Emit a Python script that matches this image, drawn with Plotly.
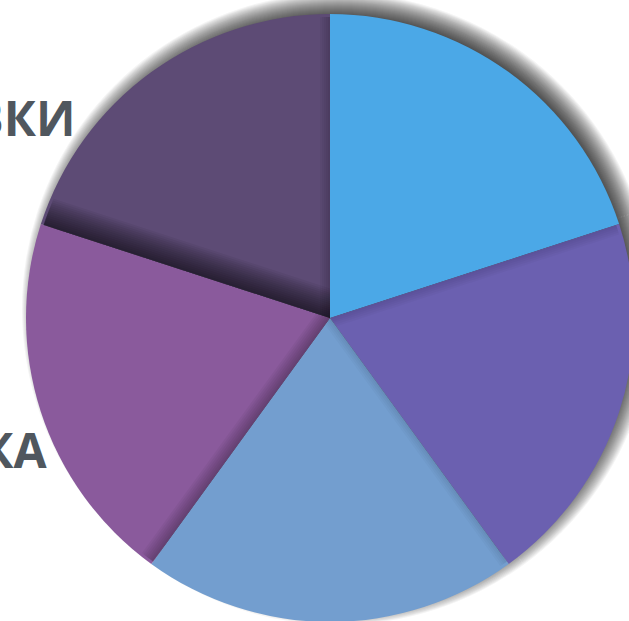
import math
import plotly.graph_objects as go

categories = ["Сегмент 1", "Сегмент 2", "Сегмент 3", "Сегмент 4", "Сегмент 5"]
values = [20, 20, 20, 20, 20]
colors = ["#4BA8E7", "#6B60B0", "#739ECF", "#8A5A9C", "#5D4B75"]
label_texts = ["ПОСТАВКИ", "ЛОГИСТИКА"]

OFF = 30
W, H = 720, 720
CX, CY, R = 330 + OFF, 318 + OFF, 304

def dom(cx, cy, r):
    return dict(x=[(cx - r) / W, (cx + r) / W], y=[1 - (cy + r) / H, 1 - (cy - r) / H])

fig = go.Figure()

# soft drop shadow (layered pies, offset up-right)
SX, SY = CX + 8, CY - 9
for k in range(-12, 13):
    fig.add_trace(go.Pie(
        labels=categories, values=values, sort=False, direction="clockwise",
        marker=dict(colors=["rgba(0,0,0,0.045)"] * 5, line=dict(width=0)),
        textinfo="none", hoverinfo="skip", showlegend=False,
        domain=dom(SX, SY, R + k),
    ))

fig.add_trace(go.Pie(
    labels=categories, values=values, sort=False, direction="clockwise",
    marker=dict(colors=colors, line=dict(width=0)),
    textinfo="none", showlegend=False,
    domain=dom(CX, CY, R),
))

# inner shading along slice boundaries, derived from the slice angles
total = sum(values)
bounds = [0.0]
for v in values:
    bounds.append(bounds[-1] + 360.0 * v / total)

RB = R - 3

def P(x, y):
    return "%.5f,%.5f" % (x / W, 1 - y / H)

def band(theta_deg, direction, w, span_deg):
    th = math.radians(theta_deg)
    ux, uy = math.sin(th), -math.cos(th)
    nx, ny = direction * math.cos(th), direction * math.sin(th)
    pts = [(CX, CY), (CX + RB * ux, CY + RB * uy)]
    dphi = math.asin(min(w / RB, 1.0))
    for i in range(1, 11):
        a = th + direction * dphi * i / 10
        pts.append((CX + RB * math.sin(a), CY - RB * math.cos(a)))
    t_in = w / math.tan(math.radians(span_deg))
    pts.append((CX + nx * w + ux * t_in, CY + ny * w + uy * t_in))
    return "M " + " L ".join(P(x, y) for x, y in pts) + " Z"

# (boundary index, side, max width, step, alpha per layer)
shading = [
    (4, +1, 28, 2, 0.05),   # top-left slice, along its lower edge
    (3, +1, 14, 2, 0.04),   # bottom-left slice, along its lower edge
    (5, -1, 10, 2, 0.035),  # top-left slice, along the vertical edge
    (1, +1, 10, 2, 0.025),  # right slice, along its upper edge
    (2, +1, 8, 2, 0.025),   # bottom slice, along its right edge
]
for bi, side, wmax, step, alpha in shading:
    span = 360.0 * values[bi if side > 0 else bi - 1] / total
    for w in range(step, wmax + 1, step):
        fig.add_shape(type="path", path=band(bounds[bi], side, w, span),
                      xref="paper", yref="paper", layer="above",
                      fillcolor="rgba(0,0,0,%.3f)" % alpha, line=dict(width=0))

ann_font = dict(family="Open Sans", size=48, color="#50575E", weight="bold")
fig.add_annotation(text=label_texts[0], xref="paper", yref="paper",
                   x=(77 + OFF) / W, y=1 - (118 + OFF) / H, xanchor="right", yanchor="middle",
                   showarrow=False, font=ann_font)
fig.add_annotation(text=label_texts[1], xref="paper", yref="paper",
                   x=(50 + OFF) / W, y=1 - (449 + OFF) / H, xanchor="right", yanchor="middle",
                   showarrow=False, font=ann_font)

fig.update_layout(width=W, height=H, margin=dict(l=0, r=0, t=0, b=0),
                  paper_bgcolor="white", plot_bgcolor="white")

fig.write_html("out.html",
               post_script=("document.body.style.margin='0';"
                            "document.body.style.overflow='hidden';"
                            "var d=document.querySelector('.plotly-graph-div');"
                            "d.style.marginTop='-%dpx';d.style.marginLeft='-%dpx';" % (OFF, OFF)))
